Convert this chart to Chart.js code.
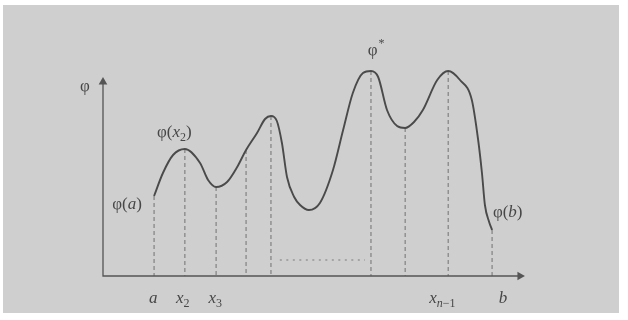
<!DOCTYPE html>
<html><head><meta charset="utf-8">
<script src="https://cdn.jsdelivr.net/npm/chart.js@4.4.0/dist/chart.umd.min.js"></script>
<style>html,body{margin:0;padding:0;background:#fff;overflow:hidden}#wrap{width:628px;height:320px}</style>
</head><body><div id="wrap"><canvas id="c" width="628" height="320"></canvas></div>
<script>
// Curve samples (abstract units)
const curveX = [12.1, 14.2, 16.6, 19.4, 23.0, 24.9, 26.8, 29.4, 31.8, 33.9, 36.5, 38.4, 39.8, 41.2, 42.4, 43.6, 45.3, 46.7, 48.8, 51.4, 54.5, 56.9, 59.2, 61.6, 63.5, 65.2, 67.3, 69.7, 71.6, 73.7, 75.8, 79.2, 81.8, 84.6, 87.4, 88.9, 89.8, 90.5, 91.5, 92.2];
const curveY = [40, 51.5, 60.5, 63.5, 56.5, 48, 44.5, 47, 54.5, 63, 71.5, 78.5, 80, 77.5, 66.5, 49.5, 39.5, 35.5, 33, 36.5, 53, 73, 91.5, 101.5, 102.5, 99.5, 83, 75, 74, 77, 83, 98, 102.5, 98, 88, 68, 51.5, 35.5, 27, 23];
// dashed drop lines
const dropX = [12.1, 19.4, 26.8, 33.9, 39.8, 63.5, 71.6, 81.8, 92.2];
const dropY = [40, 63.5, 44.5, 63, 80, 102.5, 74, 102.5, 23];
// dotted horizontal
const dotX = [41.9, 62.1];
const dotY = [8, 8];
// tick labels along the x axis
const tickText = ['a', 'x_2', 'x_3', 'x_{n−1}', 'b'];
const tickX = [11.9, 18.9, 26.6, 80.4, 94.8];
const tickY = -13.5;
// point labels
const ptText = ['φ', 'φ(a)', 'φ(x_2)', 'φ^*', 'φ(b)'];
const ptX = [-4.3, 5.7, 16.9, 64.7, 95.9];
const ptY = [92.5, 33.5, 69.5, 110.5, 29.5];

const INK = '#4a4a4a';

function parseRich(s) {
  const segs = [];
  let i = 0;
  while (i < s.length) {
    let c = s[i];
    if (c === '_' || c === '^') {
      const kind = c === '_' ? 'sub' : 'sup';
      i++;
      let t;
      if (s[i] === '{') { const j = s.indexOf('}', i); t = s.slice(i + 1, j); i = j + 1; }
      else { t = s[i]; i++; }
      for (const ch of t) segs.push({ t: ch, kind });
    } else { segs.push({ t: c, kind: 'n' }); i++; }
  }
  return segs;
}
function fontFor(seg) {
  const size = seg.kind === 'n' ? 17 : 12;
  const it = /[a-z]/i.test(seg.t) ? 'italic ' : '';
  return it + size + 'px "Liberation Serif", "DejaVu Serif", serif';
}
function drawRich(ctx, s, cx, by) {
  const segs = parseRich(s);
  let w = 0;
  segs.forEach(g => { ctx.font = fontFor(g); g.w = ctx.measureText(g.t).width + (g.kind === 'sup' ? 1 : 0); w += g.w; });
  let x = cx - w / 2;
  segs.forEach(g => {
    ctx.font = fontFor(g);
    const dy = g.kind === 'sub' ? 4 : g.kind === 'sup' ? -8 : 0;
    ctx.fillText(g.t, x + (g.kind === 'sup' ? 1 : 0), by + dy);
    x += g.w;
  });
}

const bgPlugin = {
  id: 'bg',
  beforeDraw(chart) {
    const ctx = chart.ctx;
    ctx.save();
    ctx.fillStyle = '#ffffff';
    ctx.fillRect(0, 0, chart.width, chart.height);
    ctx.fillStyle = '#cfcfcf';
    ctx.fillRect(3, 5, 616, 308);
    ctx.restore();
  }
};
const labelPlugin = {
  id: 'labels',
  afterDraw(chart) {
    const ctx = chart.ctx, xs = chart.scales.x, ys = chart.scales.y;
    ctx.save();
    ctx.fillStyle = '#474747';
    ctx.textBaseline = 'alphabetic';
    ctx.textAlign = 'left';
    tickText.forEach((t, i) => drawRich(ctx, t, xs.getPixelForValue(tickX[i]), ys.getPixelForValue(tickY)));
    ptText.forEach((t, i) => drawRich(ctx, t, xs.getPixelForValue(ptX[i]), ys.getPixelForValue(ptY[i])));
    ctx.restore();
  }
};

const datasets = [];
datasets.push({
  data: curveX.map((x, i) => ({ x, y: curveY[i] })),
  showLine: true, borderColor: INK, borderWidth: 1.9, pointRadius: 0,
  cubicInterpolationMode: 'monotone', clip: false, order: 0
});
dropX.forEach((x, i) => datasets.push({
  data: [{ x, y: dropY[i] }, { x, y: 0 }],
  showLine: true, borderColor: '#7a7a7a', borderWidth: 1.1, borderDash: [4, 3],
  pointRadius: 0, clip: false, order: 2
}));
datasets.push({
  data: dotX.map((x, i) => ({ x, y: dotY[i] })),
  showLine: true, borderColor: '#7a7a7a', borderWidth: 1.1, borderDash: [2, 4.5],
  pointRadius: 0, clip: false, order: 2
});
datasets.push({
  data: [{ x: 0, y: 98 }, { x: 0, y: 0 }, { x: 99.5, y: 0 }],
  showLine: true, borderColor: '#555', borderWidth: 1.3, pointRadius: 0, clip: false, order: 1
});
datasets.push({
  data: [{ x: 0, y: 97 }], pointStyle: 'triangle', pointRadius: 5, rotation: 0,
  backgroundColor: '#555', borderColor: '#555', borderWidth: 0, clip: false, order: 1
});
datasets.push({
  data: [{ x: 98.8, y: 0 }], pointStyle: 'triangle', pointRadius: 5, rotation: 90,
  backgroundColor: '#555', borderColor: '#555', borderWidth: 0, clip: false, order: 1
});

new Chart(document.getElementById('c'), {
  type: 'scatter',
  data: { datasets },
  options: {
    responsive: false, animation: false, devicePixelRatio: 1,
    layout: { padding: { left: 103, right: 103, top: 56, bottom: 44 } },
    plugins: { legend: { display: false }, tooltip: { enabled: false } },
    scales: {
      x: { type: 'linear', min: 0, max: 100, display: false },
      y: { type: 'linear', min: 0, max: 110, display: false }
    }
  },
  plugins: [bgPlugin, labelPlugin]
});
</script></body></html>
